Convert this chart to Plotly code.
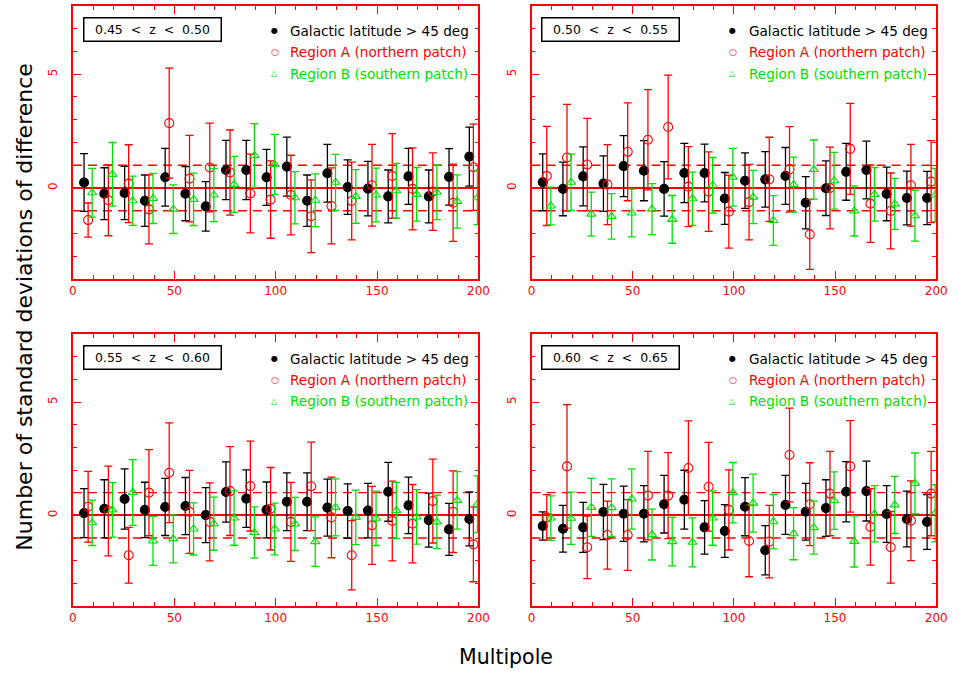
import plotly.graph_objects as go

# Multipole bins (bin starting points); the three samples are drawn side by side inside each bin
multipole_bins = [0, 10, 20, 30, 40, 50, 60, 70, 80, 90,
                  100, 110, 120, 130, 140, 150, 160, 170, 180, 190]

z_labels = ["0.45 < z < 0.50", "0.50 < z < 0.55", "0.55 < z < 0.60", "0.60 < z < 0.65"]

# ---- 0.45 < z < 0.50 ----
gal_045 = [0.24, -0.25, -0.22, -0.56, 0.47, -0.25, -0.81, 0.79, 0.79, 0.47,
           0.94, -0.56, 0.65, 0.04, -0.03, -0.37, 0.51, -0.37, 0.49, 1.38]
gal_045_err = [1.27, 1.14, 1.17, 1.13, 1.27, 1.19, 1.09, 1.30, 1.30, 1.23,
               1.30, 1.13, 1.27, 1.20, 1.20, 1.16, 1.23, 1.16, 1.24, 1.30]
regA_045 = [-1.41, -0.54, 0.19, -0.94, 2.85, 0.41, 0.90, 0.68, -0.24, -0.51,
            -0.31, -1.24, -0.79, -0.57, 0.12, 0.53, -0.04, -0.16, -0.65, 0.91]
regA_045_err = [0.75, 1.56, 1.71, 1.52, 2.42, 1.90, 1.95, 1.87, 1.73, 1.70,
                1.75, 1.60, 1.67, 1.71, 1.80, 1.86, 1.80, 1.70, 1.70, 1.90]
regB_045 = [-0.21, 0.60, -0.56, -0.46, -0.93, -0.50, -0.31, 0.16, 1.43, 1.04,
            -0.43, -0.54, 0.25, -0.37, -0.31, -0.12, -0.28, -0.19, -0.59, -0.43]
regB_045_err = [1.07, 1.40, 1.08, 1.10, 1.07, 1.15, 1.17, 1.23, 1.40, 1.32,
                1.15, 1.16, 1.23, 1.18, 1.18, 1.20, 1.18, 1.20, 1.17, 1.18]

# ---- 0.50 < z < 0.55 ----
gal_050 = [0.25, -0.04, 0.51, 0.19, 0.96, 0.76, -0.04, 0.66, 0.66, -0.46,
           0.32, 0.38, 0.53, -0.65, -0.01, 0.71, 0.79, -0.26, -0.44, -0.44]
gal_050_err = [1.25, 1.18, 1.30, 1.22, 1.34, 1.32, 1.20, 1.30, 1.27, 1.14,
               1.22, 1.22, 1.25, 1.15, 1.20, 1.25, 1.27, 1.18, 1.18, 1.17]
regA_050 = [0.53, 1.34, 1.03, 0.15, 1.59, 2.12, 2.68, 0.06, -0.16, -1.04,
            -0.62, 0.38, 0.82, -2.04, 0.00, 1.72, -0.69, -1.01, 0.12, 0.28]
regA_050_err = [2.18, 2.34, 2.03, 1.76, 2.15, 2.20, 2.28, 1.76, 1.75, 1.60,
                1.66, 1.85, 1.88, 1.54, 1.80, 2.00, 1.70, 1.67, 1.80, 1.80]
regB_050 = [-0.79, 0.25, -1.15, -1.25, -1.10, -0.93, -1.38, -0.47, 0.12, 0.47,
            -0.40, -1.43, 0.15, 0.81, 0.32, -1.01, -0.28, -0.70, -1.22, -0.31]
regB_050_err = [0.83, 1.24, 0.97, 1.00, 1.05, 1.12, 1.05, 1.17, 1.22, 1.27,
                1.17, 1.09, 1.21, 1.30, 1.25, 1.10, 1.18, 1.12, 1.12, 1.17]

# ---- 0.55 < z < 0.60 ----
gal_055 = [0.10, 0.29, 0.72, 0.24, 0.37, 0.41, 0.01, 1.03, 0.74, 0.24,
           0.60, 0.60, 0.34, 0.19, 0.21, 1.04, 0.44, -0.21, -0.62, -0.16]
gal_055_err = [1.08, 1.28, 1.33, 1.22, 1.26, 1.26, 1.21, 1.33, 1.27, 1.23,
               1.27, 1.27, 1.26, 1.20, 1.20, 1.30, 1.25, 1.19, 1.15, 1.19]
regA_055 = [0.38, 0.19, -1.76, 1.00, 1.88, 0.15, -0.29, 1.07, 1.29, 0.29,
            -0.29, 1.28, -0.09, -1.76, -0.44, -0.25, -0.37, 0.63, 0.16, -1.28]
regA_055_err = [1.56, 1.98, 1.23, 1.90, 2.20, 1.83, 1.72, 1.96, 1.98, 1.82,
                1.74, 1.95, 1.78, 1.53, 1.72, 1.76, 1.73, 1.85, 1.80, 1.65]
regB_055 = [-0.33, 0.24, 1.01, -1.13, -1.04, -0.60, -0.37, -0.12, -0.76, -0.60,
            -0.38, -1.16, 0.35, -0.09, -0.13, 0.21, -0.07, -0.29, 0.66, 0.49]
regB_055_err = [1.00, 1.20, 1.45, 1.08, 1.06, 1.15, 1.17, 1.20, 1.13, 1.14,
                1.17, 1.09, 1.26, 1.20, 1.20, 1.24, 1.20, 1.18, 1.27, 1.25]

# ---- 0.60 < z < 0.65 ----
gal_060 = [-0.47, -0.59, -0.53, 0.15, 0.07, 0.07, 0.49, 0.69, -0.53, -0.69,
           0.38, -1.54, 0.46, 0.16, 0.32, 1.04, 1.07, 0.06, -0.16, -0.29]
gal_060_err = [0.62, 1.03, 1.10, 1.22, 1.22, 1.24, 1.27, 1.30, 1.18, 1.16,
               1.28, 1.09, 1.30, 1.25, 1.25, 1.33, 1.32, 1.25, 1.23, 1.21]
regA_060 = [-0.09, 2.16, -1.41, -0.87, -0.87, 0.87, 0.87, 2.09, 1.26, 0.24,
            -1.13, -1.16, 2.66, 0.49, 0.96, 2.16, -0.51, -1.41, -0.24, 0.96]
regA_060_err = [1.00, 2.72, 1.38, 1.50, 1.56, 1.95, 1.90, 2.08, 1.96, 1.77,
                1.58, 1.60, 2.07, 1.83, 1.86, 2.02, 1.69, 1.58, 1.76, 1.86]
regB_060 = [-0.12, -0.13, 0.35, 0.34, 0.72, -0.85, -1.16, -1.19, -0.12, 1.00,
            0.54, -0.28, -0.81, -0.54, 0.65, -1.15, 0.07, 0.46, 1.41, 0.09]
regB_060_err = [0.98, 1.15, 1.28, 1.27, 1.33, 1.12, 1.07, 1.08, 1.20, 1.33,
                1.28, 1.20, 1.15, 1.17, 1.27, 1.13, 1.24, 1.26, 1.34, 1.26]

sigma_lines = [-1, 1]

sample_names = ["Galactic latitude > 45 deg",
                "Region A (northern patch)",
                "Region B (southern patch)"]

GREEN = "#00e000"
FONT = "DejaVu Sans"

panels = [
    (gal_045, gal_045_err, regA_045, regA_045_err, regB_045, regB_045_err),
    (gal_050, gal_050_err, regA_050, regA_050_err, regB_050, regB_050_err),
    (gal_055, gal_055_err, regA_055, regA_055_err, regB_055, regB_055_err),
    (gal_060, gal_060_err, regA_060, regA_060_err, regB_060, regB_060_err),
]

# sample style: (x offset within a bin, colour, marker symbol, marker size)
styles = [
    (5.5, "black", "circle", 9),
    (7.5, "red", "circle-open", 9),
    (9.5, GREEN, "triangle-up-open", 8),
]

# axis domains in paper fractions
x_domains = [[0.0730, 0.5026], [0.5589, 0.9875], [0.0730, 0.5026], [0.5589, 0.9875]]
y_domains = [[0.5867, 0.9911], [0.5867, 0.9911], [0.1022, 0.5052], [0.1022, 0.5052]]

fig = go.Figure()
layout = dict(
    width=959, height=675,
    margin=dict(l=0, r=0, t=0, b=0),
    paper_bgcolor="white", plot_bgcolor="white",
    showlegend=False,
    font=dict(family=FONT),
    shapes=[], annotations=[],
)

for p, data in enumerate(panels):
    i = p + 1
    xa = "x" if i == 1 else f"x{i}"
    ya = "y" if i == 1 else f"y{i}"
    series = [(data[0], data[1]), (data[2], data[3]), (data[4], data[5])]
    for k, ((vals, errs), (off, col, sym, size)) in enumerate(zip(series, styles)):
        fig.add_trace(go.Scatter(
            x=[b + off for b in multipole_bins], y=vals,
            xaxis=xa, yaxis=ya, mode="markers",
            marker=dict(symbol=sym, size=size, color=col,
                        line=dict(color=col, width=1.1)),
            error_y=dict(type="data", array=errs, visible=True,
                         color=col, thickness=1.3, width=4),
            name=sample_names[k],
        ))

    axis_common = dict(
        showline=True, linecolor="red", linewidth=1.5, mirror="ticks",
        ticks="inside", tickcolor="red", tickwidth=1.3, ticklen=8,
        showgrid=False,
        tickfont=dict(family=FONT, size=12, color="red"),
    )
    layout[f"xaxis{i}"] = dict(
        axis_common, domain=x_domains[p], anchor=ya, range=[0, 200],
        tickmode="linear", tick0=0, dtick=50, zeroline=False,
        minor=dict(dtick=10, ticklen=4, tickcolor="red", tickwidth=1.3, ticks="inside"),
    )
    layout[f"yaxis{i}"] = dict(
        axis_common, domain=y_domains[p], anchor=xa, range=[-4, 8],
        tickmode="linear", tick0=0, dtick=5, tickangle=-90,
        ticklabelstandoff=9,
        zeroline=True, zerolinecolor="red", zerolinewidth=1.5,
        minor=dict(dtick=1, ticklen=4, tickcolor="red", tickwidth=1.3, ticks="inside"),
    )

    for s in sigma_lines:
        layout["shapes"].append(dict(
            type="line", xref=f"{xa} domain", yref=ya, x0=0, x1=1, y0=s, y1=s,
            line=dict(color="red", width=1.3, dash="9px,6px"), layer="below",
        ))

    # redshift slice label
    layout["annotations"].append(dict(
        xref=f"{xa} domain", yref=f"{ya} domain", x=0.1954, y=0.914,
        xanchor="center", yanchor="middle", showarrow=False,
        text=z_labels[p].replace(" ", "&nbsp;&nbsp;"),
        font=dict(family=FONT, size=12.5, color="black"),
        bordercolor="black", borderwidth=1.5, borderpad=2,
        width=132, height=18, bgcolor="white",
    ))

    # key
    key_rows = [0.9095, 0.8315, 0.7527]
    key_glyphs = ["\u25CF", "\u25CB", "\u25B3"]
    key_sizes = [8, 9, 8]
    key_cols = ["black", "red", GREEN]
    for row, glyph, gs, col, nm in zip(key_rows, key_glyphs, key_sizes, key_cols, sample_names):
        layout["annotations"].append(dict(
            xref=f"{xa} domain", yref=f"{ya} domain", x=0.4976, y=row,
            xanchor="center", yanchor="middle", showarrow=False,
            text=glyph, font=dict(family=FONT, size=gs, color=col),
        ))
        layout["annotations"].append(dict(
            xref=f"{xa} domain", yref=f"{ya} domain", x=0.5316, y=row,
            xanchor="left", yanchor="middle", showarrow=False,
            text=nm, font=dict(family=FONT, size=13.6, color=col),
        ))

layout["annotations"].append(dict(
    xref="paper", yref="paper", x=510 / 959, y=1 - 657 / 675,
    xanchor="center", yanchor="middle", showarrow=False,
    text="Multipole", font=dict(family=FONT, size=20.5, color="black"),
))
layout["annotations"].append(dict(
    xref="paper", yref="paper", x=20 / 959, y=1 - 307 / 675,
    xanchor="center", yanchor="middle", showarrow=False, textangle=-90,
    text="Number of standard deviations of difference",
    font=dict(family=FONT, size=22, color="black"),
))

fig.update_layout(layout)
fig.write_html("out.html")
